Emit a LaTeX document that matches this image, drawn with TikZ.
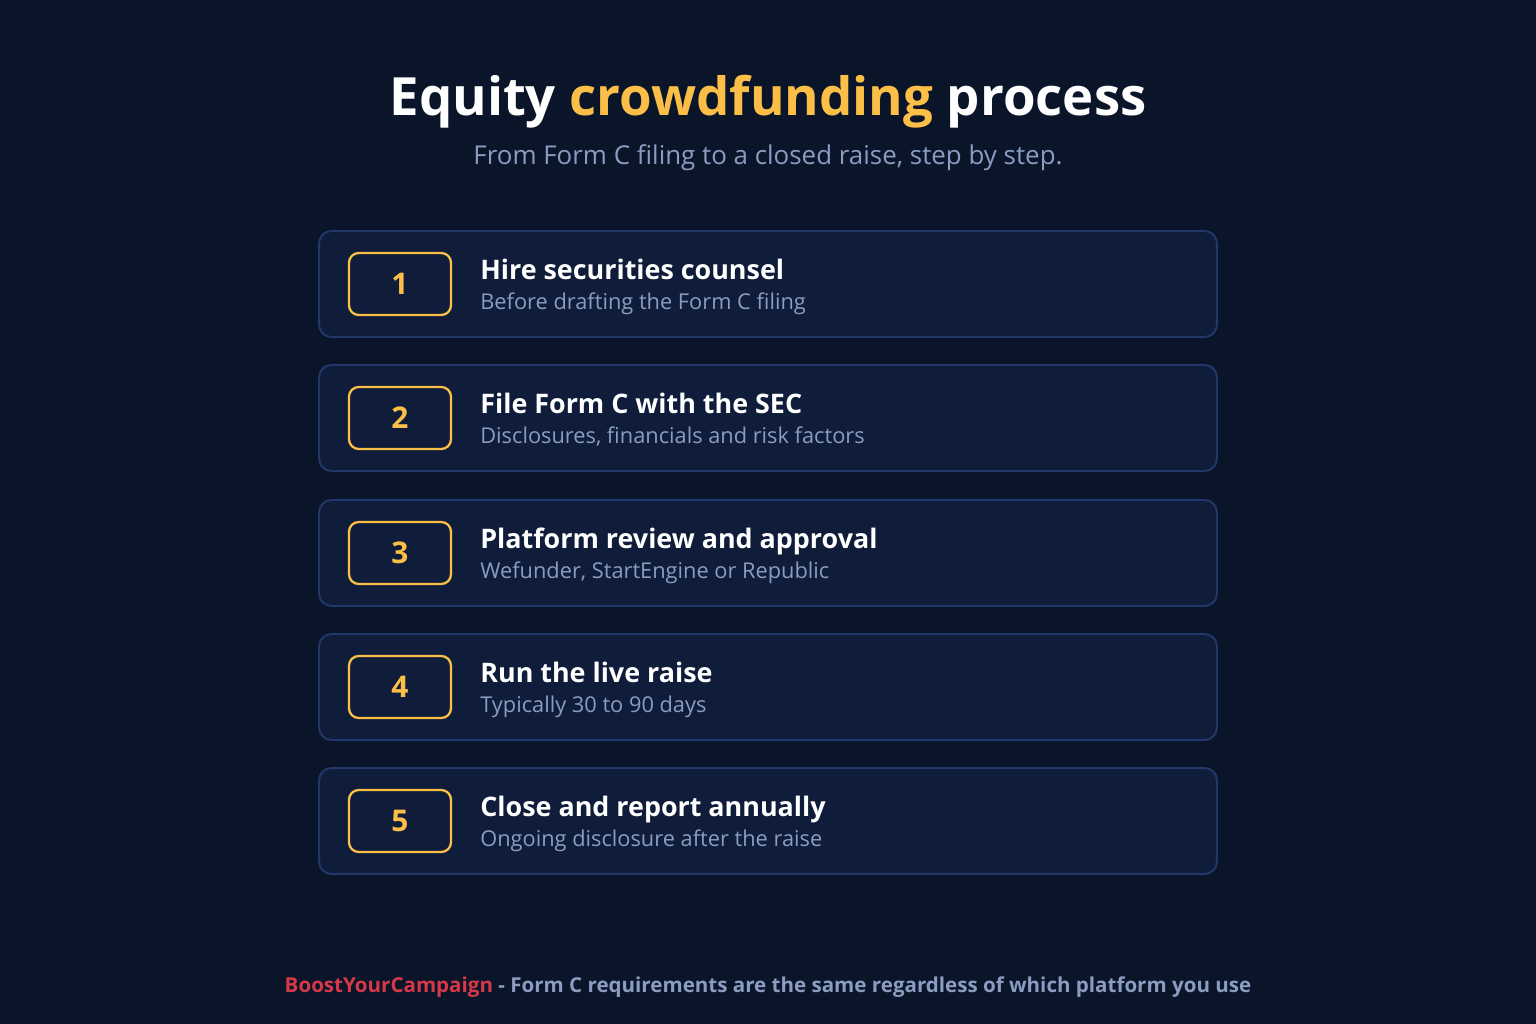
\documentclass[tikz,border=0pt]{standalone}
\usepackage{fontspec}
\setmainfont{Open Sans}
\usepackage{xcolor}
\usepackage{tikz}
\usetikzlibrary{positioning,calc}

\definecolor{bgnavy}{HTML}{0B1529}
\definecolor{cardfill}{HTML}{0F1D3B}
\definecolor{cardline}{HTML}{22386A}
\definecolor{amber}{HTML}{FBBF47}
\definecolor{mutedtxt}{HTML}{8A9CC2}
\definecolor{brandred}{HTML}{D63848}

\tikzset{
  card/.style={draw=cardline, line width=1.1pt, fill=cardfill, rounded corners=7pt,
    minimum width=17.96cm, minimum height=2.12cm, inner sep=0pt},
  numbox/.style={draw=amber, line width=1.3pt, rounded corners=5.5pt,
    minimum width=2.04cm, minimum height=1.24cm, inner sep=0pt,
    text=amber, font=\fontsize{17}{20}\selectfont\bfseries},
  steptitle/.style={anchor=base west, inner sep=0pt, text=white,
    font=\fontsize{15.3}{19}\selectfont\bfseries},
  stepnote/.style={anchor=base west, inner sep=0pt, text=mutedtxt,
    font=\fontsize{12.4}{15}\selectfont},
}

\begin{document}
\begin{tikzpicture}[x=0.02cm, y=-0.02cm]
  \fill[bgnavy] (0,0) rectangle (1536,1024);
  \useasboundingbox (0,0) rectangle (1536,1024);

  % heading
  \node[anchor=base, inner sep=0pt, text=white, font=\fontsize{30}{36}\selectfont\bfseries]
    (title) at (768,116) {Equity \textcolor{amber}{crowdfunding} process};
  \node[anchor=base, inner sep=0pt, text=mutedtxt, font=\fontsize{14.75}{18}\selectfont]
    (subtitle) at (768,165) {From Form C filing to a closed raise, step by step.};

  % steps
  \node[card] (card1) at (768,284) {};
  \node[numbox, fill=cardfill] (num1) at (400,284) {1};
  \node[steptitle] (head1) at (480,279) {Hire securities counsel};
  \node[stepnote] (note1) at (480,309) {Before drafting the Form C filing};

  \node[card] (card2) at (768,418) {};
  \node[numbox, fill=cardfill] (num2) at (400,418) {2};
  \node[steptitle] (head2) at (480,413) {File Form C with the SEC};
  \node[stepnote] (note2) at (480,443) {Disclosures, financials and risk factors};

  \node[card] (card3) at (768,553) {};
  \node[numbox, fill=cardfill] (num3) at (400,553) {3};
  \node[steptitle] (head3) at (480,548) {Platform review and approval};
  \node[stepnote] (note3) at (480,578) {Wefunder, StartEngine or Republic};

  \node[card] (card4) at (768,687) {};
  \node[numbox, fill=cardfill] (num4) at (400,687) {4};
  \node[steptitle] (head4) at (480,682) {Run the live raise};
  \node[stepnote] (note4) at (480,712) {Typically 30 to 90 days};

  \node[card] (card5) at (768,821) {};
  \node[numbox, fill=cardfill] (num5) at (400,821) {5};
  \node[steptitle] (head5) at (480,816) {Close and report annually};
  \node[stepnote] (note5) at (480,846) {Ongoing disclosure after the raise};

  % footer
  \node[anchor=base, inner sep=0pt, text=mutedtxt, font=\fontsize{11.7}{14}\selectfont\bfseries]
    (footer) at (768,992) {\textcolor{brandred}{BoostYourCampaign} - Form C requirements are the same regardless of which platform you use};
\end{tikzpicture}
\end{document}
